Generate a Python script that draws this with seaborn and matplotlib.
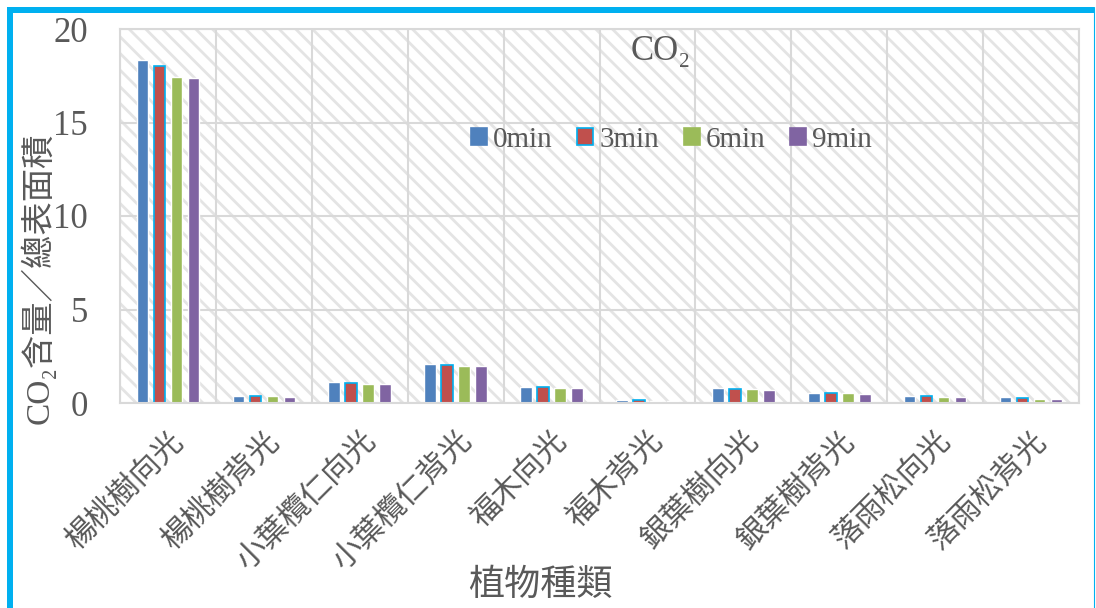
import numpy as np
import pandas as pd
import matplotlib
matplotlib.use("Agg")
import matplotlib.pyplot as plt
from matplotlib.patches import Rectangle, Patch
from matplotlib.lines import Line2D
import seaborn as sns

# Plant samples (sunlit / shaded side) and CO2 per total surface area at each time point
plants = ["楊桃樹向光", "楊桃樹背光", "小葉欖仁向光", "小葉欖仁背光", "福木向光",
          "福木背光", "銀葉樹向光", "銀葉樹背光", "落雨松向光", "落雨松背光"]
times = ["0min", "3min", "6min", "9min"]
co2_0min = [18.34, 0.36, 1.10, 2.06, 0.85, 0.15, 0.78, 0.52, 0.36, 0.31]
co2_3min = [18.00, 0.35, 1.05, 2.01, 0.83, 0.15, 0.75, 0.52, 0.35, 0.28]
co2_6min = [17.43, 0.35, 1.03, 1.97, 0.82, 0.13, 0.74, 0.51, 0.33, 0.24]
co2_9min = [17.38, 0.33, 1.04, 1.99, 0.82, 0.13, 0.70, 0.49, 0.31, 0.19]
y_ticks = [0, 5, 10, 15, 20]

colors = ["#4F81BD", "#C0504D", "#9BBB59", "#8064A2"]
text_gray = "#595959"
grid_gray = "#D9D9D9"
accent = "#00B0F0"

df = pd.DataFrame({
    "plant": np.tile(plants, len(times)),
    "time": np.repeat(times, len(plants)),
    "value": np.concatenate([co2_0min, co2_3min, co2_6min, co2_9min]),
})

sns.set_theme(style="white")
latin_cjk = ["Liberation Serif", "Noto Sans CJK TC", "DejaVu Serif"]
cjk = ["Noto Sans CJK TC", "DejaVu Sans"]
plt.rcParams["font.family"] = latin_cjk
plt.rcParams["hatch.color"] = "#E4E4E4"
plt.rcParams["hatch.linewidth"] = 2.0

fig = plt.figure(figsize=(10.96, 6.08), dpi=100)
W, H = 1096, 608
ax = fig.add_axes([120 / W, 1 - 403 / H, (1079 - 120) / W, (403 - 29) / H])
ax.set_facecolor("white")

# diagonal striped plot-area fill
ax.add_patch(Rectangle((0, 0), 1, 1, transform=ax.transAxes, facecolor="white",
                       edgecolor="#E4E4E4", linewidth=0, hatch="\\\\", zorder=0.1))

sns.barplot(data=df, x="plant", y="value", hue="time", hue_order=times,
            palette=colors, saturation=1, width=0.71, gap=0.32,
            legend=False, ax=ax, zorder=2)

# 3min bars carry a cyan outline
for bar in ax.containers[1]:
    bar.set_edgecolor(accent)
    bar.set_linewidth(1.2)

ax.set_ylim(0, 20)
ax.set_xlim(-0.5, len(plants) - 0.5)
ax.set_yticks(y_ticks)
ax.set_yticklabels([str(t) for t in y_ticks], fontsize=25, color=text_gray,
                   family=latin_cjk)
ax.set_xticks(range(len(plants)))
ax.set_xticklabels(plants, rotation=45, ha="right", va="top",
                   rotation_mode="anchor", fontsize=22, color=text_gray, family=cjk)
ax.tick_params(axis="y", length=0, pad=23)
ax.tick_params(axis="x", length=0, pad=16)

# gridlines on value ticks and category boundaries
ax.set_xticks(np.arange(-0.5, len(plants), 1.0), minor=True)
ax.tick_params(axis="x", which="minor", length=0)
ax.set_axisbelow(True)
ax.grid(axis="y", which="major", color=grid_gray, linewidth=1.5, zorder=0.5)
ax.grid(axis="x", which="minor", color=grid_gray, linewidth=1.5, zorder=0.5)
ax.grid(axis="x", which="major", visible=False)
for s in ax.spines.values():
    s.set_color(grid_gray)
    s.set_linewidth(1.5)

ax.set_ylabel("CO₂含量／總表面積", fontsize=24, color=text_gray, family=latin_cjk)
ax.yaxis.set_label_coords((38 - 120) / (1079 - 120), (403 - 278) / (403 - 29))
ax.yaxis.label.set_va("center")
ax.set_xlabel("植物種類", fontsize=26, color=text_gray, family=cjk)
ax.xaxis.set_label_coords((540 - 120) / (1079 - 120), (403 - 585) / (403 - 29))
ax.xaxis.label.set_va("center")

ax.set_title("CO₂", fontsize=25, color=text_gray, family=latin_cjk,
             x=(661 - 120) / (1079 - 120), y=(403 - 68) / (403 - 29), va="baseline")

handles = [Patch(facecolor=c, edgecolor=(accent if i == 1 else c), linewidth=1.2)
           for i, c in enumerate(colors)]
leg = ax.legend(handles, times, loc="center left", ncol=4, frameon=False,
                bbox_to_anchor=(471 / W, 1 - 140 / H), bbox_transform=fig.transFigure,
                prop={"family": latin_cjk, "size": 21}, handlelength=0.55,
                handleheight=0.55, handletextpad=0.2, columnspacing=0.85,
                borderpad=0, borderaxespad=0)
for t in leg.get_texts():
    t.set_color(text_gray)

# outer frame
fig.add_artist(Rectangle((7 / W, 0), 6 / W, 601 / H, transform=fig.transFigure,
                         facecolor=accent, edgecolor="none"))
fig.add_artist(Rectangle((7 / W, 1 - 13 / H), (1094 - 7) / W, 6 / H,
                         transform=fig.transFigure, facecolor=accent, edgecolor="none"))
fig.add_artist(Line2D([1094 / W, 1094 / W], [0, 1 - 7 / H], transform=fig.transFigure,
                      color=accent, linewidth=0.8))

fig.savefig("out.png", dpi=100)
